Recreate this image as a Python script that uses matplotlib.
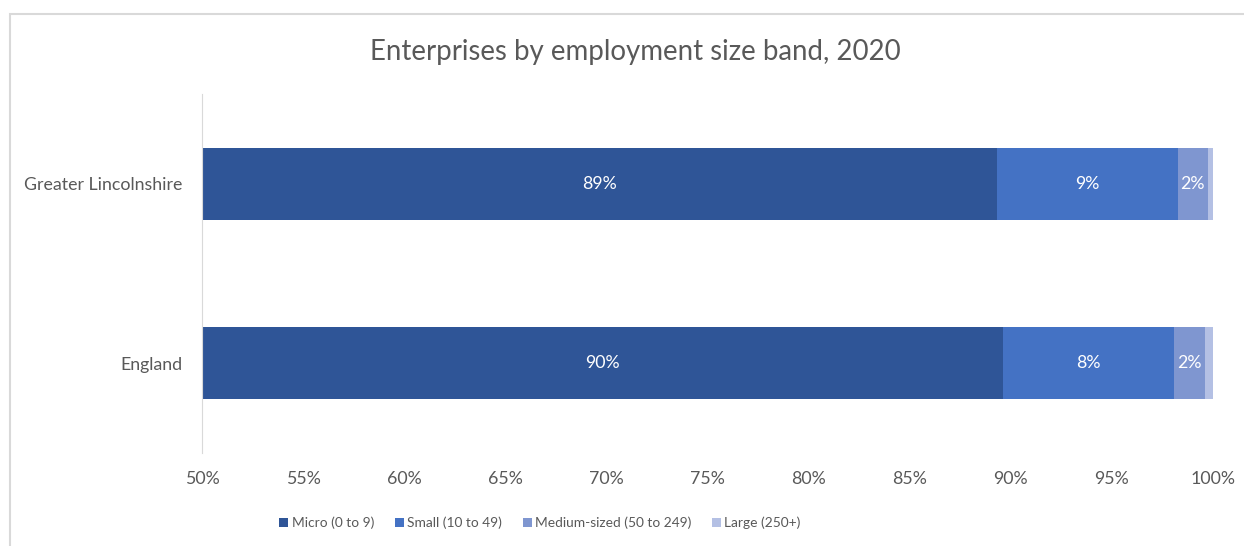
import matplotlib
matplotlib.use("Agg")
import matplotlib.pyplot as plt
from matplotlib.patches import Rectangle
from matplotlib.ticker import FuncFormatter

categories = ["England", "Greater Lincolnshire"]
series_names = ["Micro (0 to 9)", "Small (10 to 49)", "Medium-sized (50 to 249)", "Large (250+)"]
micro = [89.6, 89.3]
small = [8.45, 8.95]
medium = [1.55, 1.5]
large = [0.4, 0.25]
colors = ["#2F5597", "#4472C4", "#7F96D0", "#B4C0E4"]
show_labels = [True, True, True, False]
x_ticks = [50, 55, 60, 65, 70, 75, 80, 85, 90, 95, 100]

plt.rcParams['font.family'] = ['Lato', 'DejaVu Sans']
W, H = 1244, 546
fig = plt.figure(figsize=(W / 100, H / 100), dpi=100)
fig.patch.set_facecolor("white")

# chart frame
fig.add_artist(Rectangle((10 / W, -0.1), 1.2, (H - 14) / H + 0.1, transform=fig.transFigure,
                         fill=False, edgecolor="#D9D9D9", linewidth=1.5, clip_on=False))

ax = fig.add_axes([202 / W, 93 / H, 1011 / W, 359 / H])
series = [micro, small, medium, large]
ypos = list(range(len(categories)))
base = [0.0] * len(categories)
for name, vals, col, lab in zip(series_names, series, colors, show_labels):
    starts = [max(b, 50) for b in base]
    widths = [b + v - s for b, v, s in zip(base, vals, starts)]
    ax.barh(ypos, widths, left=starts, height=0.4, color=col, label=name)
    if lab:
        for y, s, w, v in zip(ypos, starts, widths, vals):
            ax.text(s + w / 2, y, f"{v:.0f}%", ha="center", va="center",
                    color="white", fontsize=12.8)
    base = [b + v for b, v in zip(base, vals)]

ax.set_xlim(50, 100)
ax.set_ylim(-0.5, 1.5)
ax.set_xticks(x_ticks)
ax.xaxis.set_major_formatter(FuncFormatter(lambda v, p: f"{v:.0f}%"))
ax.set_yticks(ypos)
ax.set_yticklabels(categories)
for s in ["top", "right", "bottom"]:
    ax.spines[s].set_visible(False)
ax.spines["left"].set_color("#D9D9D9")
ax.tick_params(axis="both", length=0, colors="#595959", labelsize=12.8)
ax.tick_params(axis="x", pad=13)
ax.tick_params(axis="y", pad=14)

fig.text(635 / W, 1 - 52 / H, "Enterprises by employment size band, 2020",
         ha="center", va="center", fontsize=19.9, color="#595959")

leg = fig.legend(loc="center", bbox_to_anchor=(540 / W, 1 - 523 / H), ncol=4, frameon=False,
                 fontsize=9.9, handlelength=0.65, handleheight=0.65, handletextpad=0.25,
                 columnspacing=1.5, labelcolor="#595959")

fig.savefig("out.png", dpi=100)
